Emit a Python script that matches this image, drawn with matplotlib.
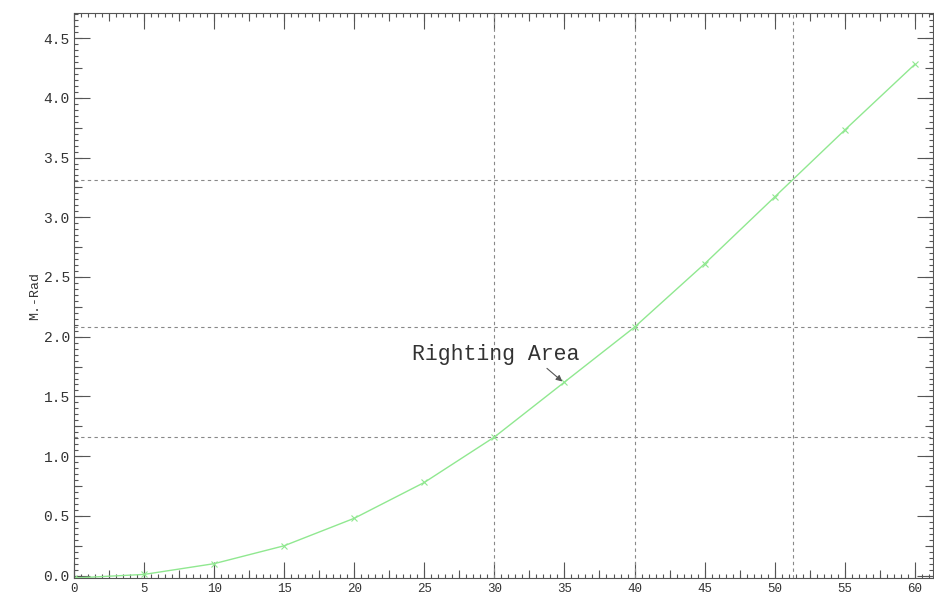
import numpy as np
import matplotlib
matplotlib.use("Agg")
from matplotlib import pyplot as plt
from matplotlib.ticker import MultipleLocator

# heel angle (deg) and righting moment (M.-Rad)
angle = [0, 5, 10, 15, 20, 25, 30, 35, 40, 45, 50, 55, 60]
moment = [-0.02, 0.01, 0.10, 0.25, 0.48, 0.78, 1.16, 1.62, 2.08, 2.61, 3.17, 3.73, 4.28]

# dashed reference lines
vlines_x = [30, 40, 51.3]
hlines_y = [1.16, 2.08, 3.31]

label_text = "Righting Area"
label_xy = (24.1, 1.85)
arrow_target = (35, 1.61)

FONT = "Liberation Mono"
TXT = "#333333"


def style_axis(ax):
    ax.xaxis.set_major_locator(MultipleLocator(5))
    ax.xaxis.set_minor_locator(MultipleLocator(0.5))
    ax.yaxis.set_major_locator(MultipleLocator(0.5))
    ax.yaxis.set_minor_locator(MultipleLocator(0.05))
    ax.tick_params(which="both", direction="in", top=True, right=True,
                   color="#555555", width=0.8)
    ax.tick_params(which="major", length=11.5, labelcolor=TXT)
    ax.tick_params(axis="y", which="major", labelsize=10.5, pad=3)
    ax.tick_params(axis="x", which="major", labelsize=9, pad=3.5)
    ax.tick_params(which="minor", length=3)
    for lab in ax.get_xticklabels() + ax.get_yticklabels():
        lab.set_family(FONT)


def add_mid_ticks(ax):
    # middle-length ticks every 2.5 on x and 0.25 on y
    for side in ("bottom", "top"):
        sec = ax.secondary_xaxis(side)
        sec.xaxis.set_major_locator(MultipleLocator(2.5))
        sec.tick_params(direction="in", length=6, labelbottom=False, labeltop=False,
                        color="#555555", width=0.8)
        sec.spines[side].set_visible(False)
    for side in ("left", "right"):
        sec = ax.secondary_yaxis(side)
        sec.yaxis.set_major_locator(MultipleLocator(0.25))
        sec.tick_params(direction="in", length=6, labelleft=False, labelright=False,
                        color="#555555", width=0.8)
        sec.spines[side].set_visible(False)


def main():
    fig = plt.figure(figsize=(9.34, 5.95), dpi=100)
    ax = fig.add_axes([74 / 934, 17 / 595, 859 / 934, 565 / 595])

    for x in vlines_x:
        ax.axvline(x, color="#888888", lw=0.8, ls=(0, (3, 3)))
    for y in hlines_y:
        ax.axhline(y, color="#888888", lw=0.8, ls=(0, (3, 3)))

    ax.plot(angle, moment, color="#90e890", lw=1.0, marker="x", ms=4, mew=0.8)

    ax.set_xlim(0, 61.3)
    ax.set_ylim(-0.02, 4.71)
    style_axis(ax)
    add_mid_ticks(ax)

    for sp in ax.spines.values():
        sp.set_color("#555555")
        sp.set_linewidth(0.8)

    ax.set_ylabel("M.-Rad", family=FONT, fontsize=9.5, color=TXT, labelpad=2)

    ax.annotate("", xy=arrow_target, xytext=(33.6, 1.75),
                arrowprops=dict(arrowstyle="-|>", color="#555555", lw=0.8,
                                mutation_scale=9))
    ax.text(label_xy[0], label_xy[1], label_text, family=FONT, fontsize=15.5,
            color=TXT, va="center", ha="left")

    fig.savefig("out.png", dpi=100)


main()
